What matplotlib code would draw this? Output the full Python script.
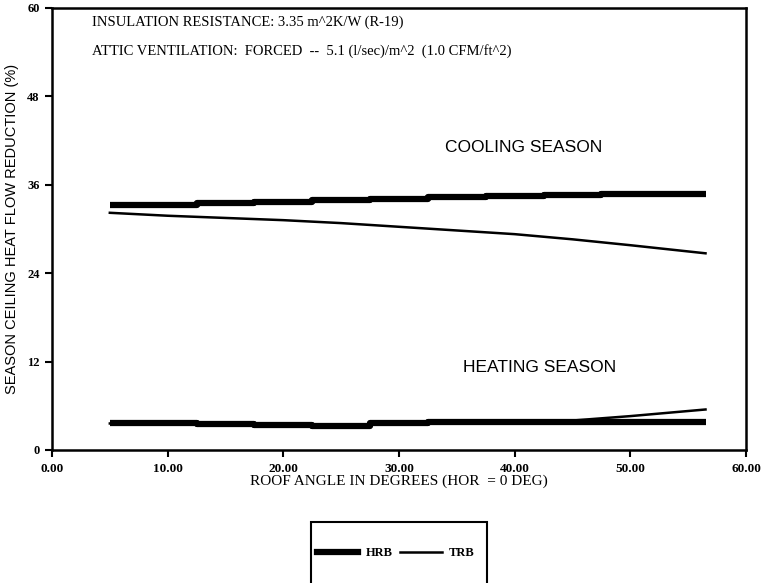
import matplotlib
matplotlib.use("Agg")
import matplotlib.pyplot as plt
from matplotlib.lines import Line2D
from matplotlib.patches import Rectangle

angle = [5, 10, 15, 20, 25, 30, 35, 40, 45, 50, 56.5]
hrb_cool = [33.3, 33.3, 33.5, 33.7, 33.9, 34.1, 34.3, 34.5, 34.6, 34.7, 34.8]
trb_cool = [32.2, 31.8, 31.5, 31.2, 30.8, 30.3, 29.8, 29.3, 28.6, 27.8, 26.7]
hrb_heat = [3.6, 3.6, 3.5, 3.4, 3.3, 3.7, 3.8, 3.8, 3.8, 3.8, 3.8]
trb_heat = [3.6, 3.6, 3.5, 3.4, 3.3, 3.7, 3.8, 3.9, 4.0, 4.6, 5.5]
xticks = [0, 10, 20, 30, 40, 50, 60]
yticks = [0, 12, 24, 36, 48, 60]

serif = "Liberation Serif"
sans = "Liberation Sans"

fig = plt.figure(figsize=(7.62, 5.83), dpi=100)
ax = fig.add_axes([52/762, 1-450/583, (746-52)/762, (450-8)/583])

ax.plot(angle, hrb_cool, color="black", lw=4.5, drawstyle="steps-mid", solid_capstyle="butt")
ax.plot(angle, trb_cool, color="black", lw=1.8)
ax.plot(angle, hrb_heat, color="black", lw=4.5, drawstyle="steps-mid", solid_capstyle="butt")
ax.plot(angle, trb_heat, color="black", lw=1.8)

ax.set_xlim(0, 60)
ax.set_ylim(0, 60)
ax.set_xticks(xticks)
ax.set_xticklabels([f"{v:.2f}" for v in xticks], fontfamily=serif, fontsize=9.5, fontweight="bold")
ax.set_yticks(yticks)
ax.set_yticklabels([str(v) for v in yticks], fontfamily=serif, fontsize=9, fontweight="bold")
ax.tick_params(direction="out", length=5, width=1.5, pad=4)
for s in ax.spines.values():
    s.set_linewidth(1.8)

ax.set_xlabel("ROOF ANGLE IN DEGREES (HOR  = 0 DEG)", fontfamily=serif, fontsize=11, labelpad=0)
ax.set_ylabel("SEASON CEILING HEAT FLOW REDUCTION (%)", fontfamily=sans, fontsize=10.5, labelpad=6)

ax.text(3.5, 58.0, "INSULATION RESISTANCE: 3.35 m^2K/W (R-19)", fontfamily=serif, fontsize=10.5, va="center")
ax.text(3.5, 54.2, "ATTIC VENTILATION:  FORCED  --  5.1 (l/sec)/m^2  (1.0 CFM/ft^2)", fontfamily=serif, fontsize=10.5, va="center")
ax.text(34.0, 41.0, "COOLING SEASON", fontfamily=sans, fontsize=12.5, va="center")
ax.text(35.5, 11.2, "HEATING SEASON", fontfamily=sans, fontsize=12.5, va="center")

handles = [Line2D([0], [0], color="black", lw=4.5), Line2D([0], [0], color="black", lw=1.8)]
leg = fig.legend(handles, ["HRB", "TRB"], loc="center", bbox_to_anchor=(396/762, 1-553/583), ncol=2,
                 frameon=False, handlelength=3.3, handletextpad=0.6, columnspacing=0.6,
                 prop={"family": serif, "size": 9, "weight": "bold"})
fig.patches.append(Rectangle((311/762, -0.02), 176/762, (583-522)/583 + 0.02,
                             transform=fig.transFigure, fill=False, edgecolor="black", lw=1.5))

fig.savefig("out.png", dpi=100)
